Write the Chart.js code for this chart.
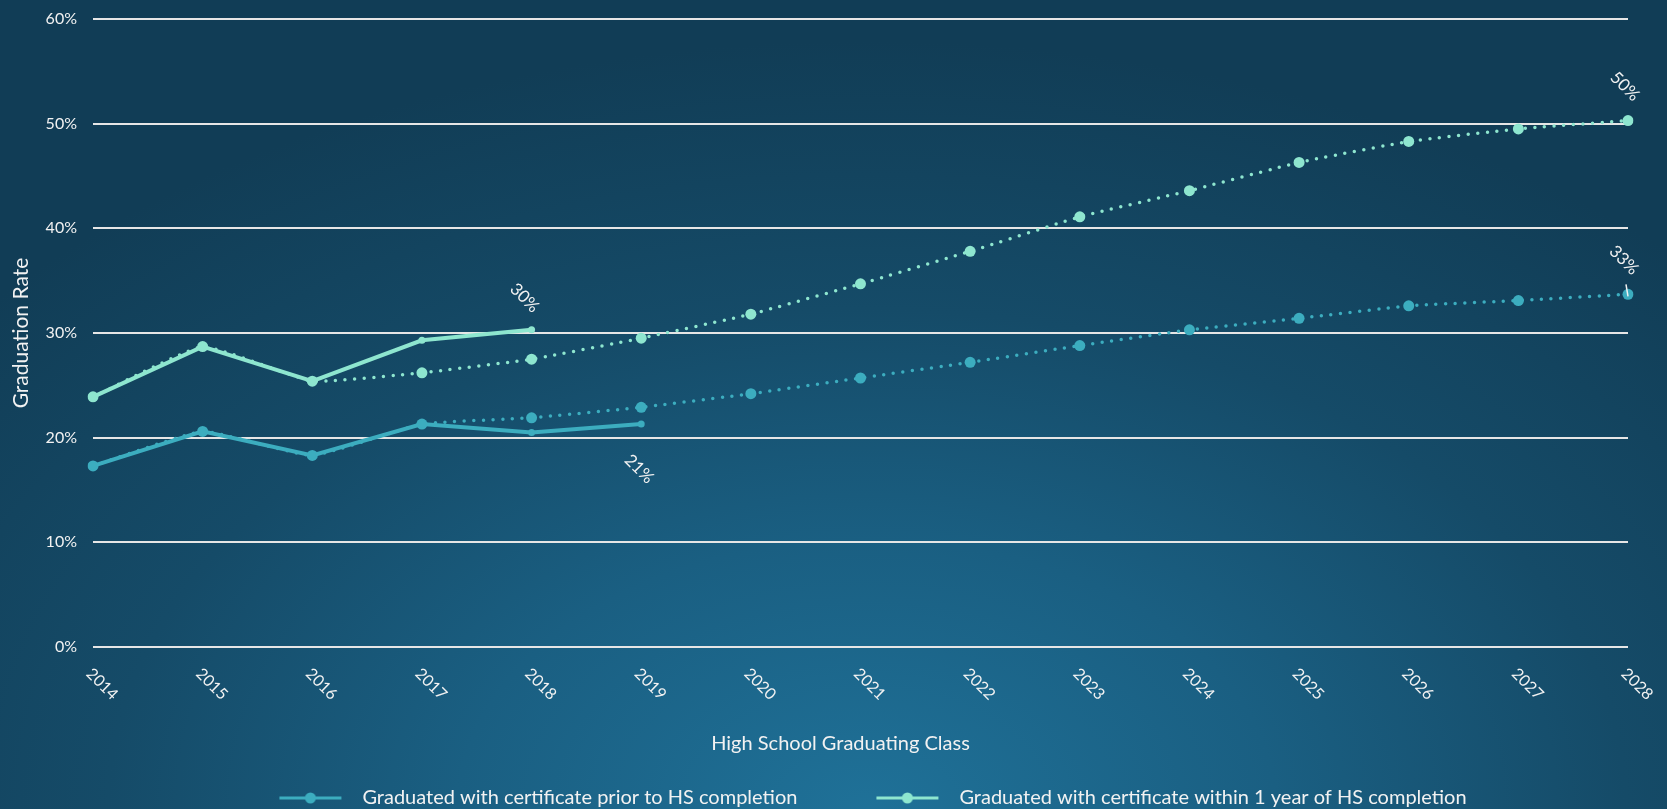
<!DOCTYPE html>
<html>
<head>
<meta charset="utf-8">
<script src="https://cdn.jsdelivr.net/npm/chart.js@4.4.1/dist/chart.umd.min.js"></script>
<style>
  html, body { margin: 0; padding: 0; }
  body {
    width: 1667px; height: 809px; overflow: hidden;
    background: radial-gradient(ellipse 70% 95% at 52% 100%, #1f7198 0%, #1a5f82 35%, #154b68 65%, #113d56 100%);
  }
  #wrap { position: relative; width: 1667px; height: 809px; }
</style>
</head>
<body>
<div id="wrap"><canvas id="chart"></canvas></div>
<script>
// --- data ---
const years = ['2014', '2015', '2016', '2017', '2018', '2019', '2020', '2021', '2022', '2023', '2024', '2025', '2026', '2027', '2028'];
const yTicks = [0, 10, 20, 30, 40, 50, 60];

// actual rates (%)
const priorActual = [17.3, 20.6, 18.3, 21.3, 20.5, 21.3, null, null, null, null, null, null, null, null, null];
const withinActual = [23.9, 28.7, 25.4, 29.3, 30.3, null, null, null, null, null, null, null, null, null, null];

// projected rates (%)
const priorProjected = [17.3, 20.6, 18.3, 21.3, 21.9, 22.9, 24.2, 25.7, 27.2, 28.8, 30.3, 31.4, 32.6, 33.1, 33.7];
const withinProjected = [23.9, 28.7, 25.4, 26.2, 27.5, 29.5, 31.8, 34.7, 37.8, 41.1, 43.6, 46.3, 48.3, 49.5, 50.3];

const seriesNames = [
    'Graduated with certificate prior to HS completion',
    'Graduated with certificate within 1 year of HS completion'
];
const xTitle = 'High School Graduating Class';

const tealColor = '#3cadbf';
const mintColor = '#8ee6cf';
const textColor = '#f2f2f2';
const fontFamily = 'Lato, "Open Sans", sans-serif';

// legend marker: line with a circle in the middle
function legendMarker(color) {
    const c = document.createElement('canvas');
    c.width = 151;
    c.height = 14;
    const g = c.getContext('2d');
    g.strokeStyle = color;
    g.lineWidth = 3;
    g.beginPath();
    g.moveTo(78, 7);
    g.lineTo(140, 7);
    g.stroke();
    g.fillStyle = color;
    g.beginPath();
    g.arc(109, 7, 5.5, 0, Math.PI * 2);
    g.fill();
    return c;
}
const markers = [legendMarker(tealColor), legendMarker(mintColor)];

// rotated value labels at the end of each line
const endLabels = [
    { dataset: 0, dx: -2, dy: 45 },
    { dataset: 1, dx: -7, dy: -32 },
    { dataset: 2, dx: -4, dy: -34, leader: true },
    { dataset: 3, dx: -3, dy: -34 }
];

const customText = {
    id: 'customText',
    afterLayout(chart) {
        // nudge the legend row to the right
        chart.legend.left += 20;
        chart.legend.right += 20;
    },
    afterDatasetsDraw(chart) {
        const ctx = chart.ctx;
        const xScale = chart.scales.x;
        const area = chart.chartArea;
        ctx.save();
        ctx.fillStyle = textColor;
        ctx.textBaseline = 'middle';

        // x axis title
        ctx.font = '20px ' + fontFamily;
        ctx.textAlign = 'center';
        ctx.fillText(xTitle, (area.left + area.right) / 2 - 20, area.bottom + 97);

        // x tick labels, rotated 45deg clockwise
        ctx.font = '16px ' + fontFamily;
        ctx.textAlign = 'left';
        years.forEach((yr, i) => {
            const x = xScale.getPixelForTick(i);
            ctx.save();
            ctx.translate(x - 4, area.bottom + 24);
            ctx.rotate(Math.PI / 4);
            ctx.fillText(yr, 0, 0);
            ctx.restore();
        });

        // end-of-line value labels
        ctx.font = '17px ' + fontFamily;
        ctx.textAlign = 'center';
        endLabels.forEach(lab => {
            const ds = chart.data.datasets[lab.dataset];
            let idx = ds.data.length - 1;
            while (ds.data[idx] == null) idx--;
            const pt = chart.getDatasetMeta(lab.dataset).data[idx];
            const v = ds.data[idx];
            ctx.save();
            ctx.translate(pt.x + lab.dx, pt.y + lab.dy);
            ctx.rotate(Math.PI / 4);
            ctx.fillText(Math.floor(v) + '%', 0, 0);
            ctx.restore();
            if (lab.leader) {
                ctx.strokeStyle = textColor;
                ctx.lineWidth = 1.5;
                ctx.beginPath();
                ctx.moveTo(pt.x - 2, pt.y - 10);
                ctx.lineTo(pt.x, pt.y + 2);
                ctx.stroke();
            }
        });
        ctx.restore();
    }
};

new Chart(document.getElementById('chart'), {
    type: 'line',
    data: {
        labels: years,
        datasets: [
            {
                label: seriesNames[0],
                data: priorActual,
                borderColor: tealColor,
                backgroundColor: tealColor,
                borderWidth: 4,
                pointRadius: 3.5,
                pointBorderWidth: 0,
                tension: 0
            },
            {
                label: seriesNames[1],
                data: withinActual,
                borderColor: mintColor,
                backgroundColor: mintColor,
                borderWidth: 4,
                pointRadius: 3.5,
                pointBorderWidth: 0,
                tension: 0
            },
            {
                label: seriesNames[0] + ' (projected)',
                data: priorProjected,
                borderColor: tealColor,
                backgroundColor: tealColor,
                borderWidth: 3.5,
                borderDash: [0, 9.6],
                borderCapStyle: 'round',
                pointRadius: 5.5,
                pointBorderWidth: 0,
                tension: 0.12
            },
            {
                label: seriesNames[1] + ' (projected)',
                data: withinProjected,
                borderColor: mintColor,
                backgroundColor: mintColor,
                borderWidth: 3.5,
                borderDash: [0, 9.6],
                borderCapStyle: 'round',
                pointRadius: 5.5,
                pointBorderWidth: 0,
                tension: 0.12
            }
        ]
    },
    options: {
        responsive: true,
        maintainAspectRatio: false,
        animation: false,
        layout: { padding: { top: 19, right: 39, left: 0, bottom: -9 } },
        plugins: {
            legend: {
                position: 'bottom',
                labels: {
                    color: textColor,
                    font: { family: fontFamily, size: 20 },
                    usePointStyle: true,
                    pointStyleWidth: 151,
                    padding: 1,
                    generateLabels(chart) {
                        const items = Chart.defaults.plugins.legend.labels.generateLabels(chart);
                        return items.filter(it => it.datasetIndex < 2).map(it => {
                            it.pointStyle = markers[it.datasetIndex];
                            return it;
                        });
                    }
                }
            },
            tooltip: { enabled: false }
        },
        scales: {
            x: {
                grid: { display: false },
                border: { display: false },
                ticks: { display: false },
                afterFit(scale) { scale.height = 140; }
            },
            y: {
                min: 0,
                max: 60,
                afterBuildTicks(scale) { scale.ticks = yTicks.map(v => ({ value: v })); },
                grid: { color: '#e6e6e6', lineWidth: 2, drawTicks: false },
                border: { display: false },
                ticks: {
                    color: textColor,
                    font: { family: fontFamily, size: 16 },
                    padding: 16,
                    callback: v => v + '%'
                },
                title: {
                    display: true,
                    text: 'Graduation Rate',
                    color: textColor,
                    font: { family: fontFamily, size: 21 },
                    padding: { top: 9, bottom: 4 }
                },
                afterFit(scale) {
                    scale.width = 93;
                    scale.paddingTop = 0;
                    scale.paddingBottom = 0;
                }
            }
        }
    },
    plugins: [customText]
});
</script>
</body>
</html>
